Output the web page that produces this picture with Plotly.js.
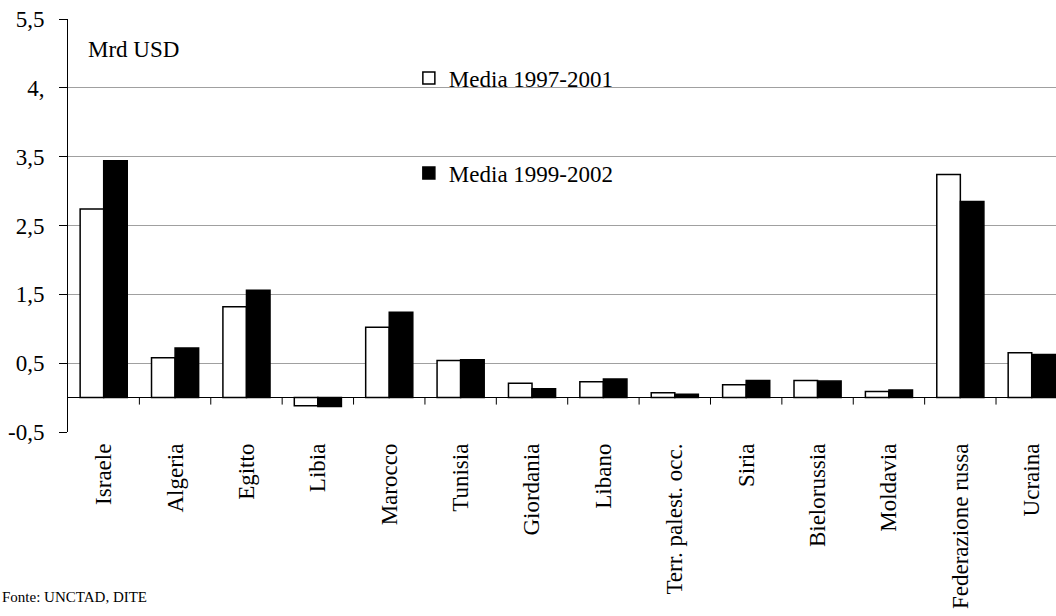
<!DOCTYPE html>
<html>
<head>
<meta charset="utf-8">
<script src="https://cdn.plot.ly/plotly-3.0.1.min.js"></script>
<style>
  html, body { margin: 0; padding: 0; background: #fff; }
  #chart { width: 1056px; height: 616px; }
</style>
</head>
<body>
<div id="chart"></div>
<script>
const categories = ["Israele", "Algeria", "Egitto", "Libia", "Marocco", "Tunisia", "Giordania",
  "Libano", "Terr. palest. occ.", "Siria", "Bielorussia", "Moldavia", "Federazione russa", "Ucraina"];
const media1997_2001 = [2.74, 0.58, 1.32, -0.12, 1.02, 0.54, 0.21, 0.23, 0.07, 0.185, 0.25, 0.09, 3.24, 0.65];
const media1999_2002 = [3.44, 0.72, 1.56, -0.13, 1.24, 0.55, 0.13, 0.27, 0.05, 0.25, 0.24, 0.11, 2.85, 0.625];
const yTickVals = [-0.5, 0.5, 1.5, 2.5, 3.5, 4.5, 5.5];
const yTickText = ["-0,5", "0,5", "1,5", "2,5", "3,5", "4,", "5,5"];
const seriesNames = ["Media 1997-2001", "Media 1999-2002"];
const unitLabel = "Mrd USD";
const sourceLabel = "Fonte: UNCTAD, DITE";

const FONT = "'Liberation Serif', 'Times New Roman', Times, serif";

const traces = [
  {
    type: "bar", x: categories, y: media1997_2001, name: seriesNames[0],
    legendgroup: "a",
    marker: { color: "#ffffff", line: { color: "#000000", width: 1.5 } },
    hoverinfo: "x+y"
  },
  {
    type: "bar", x: categories, y: media1999_2002, name: seriesNames[1],
    legendgroup: "b",
    marker: { color: "#000000", line: { color: "#000000", width: 1.5 } },
    hoverinfo: "x+y"
  }
];

// category boundary tick marks along the zero line
const shapes = [];
for (let i = 0; i < categories.length - 1; i++) {
  shapes.push({
    type: "line", xref: "x", yref: "y", ysizemode: "pixel", yanchor: 0,
    x0: i + 0.5, x1: i + 0.5, y0: 0, y1: -7,
    line: { color: "#000000", width: 1 }
  });
}

const layout = {
  width: 1056, height: 616,
  margin: { l: 68, r: 0, t: 19, b: 184 },
  paper_bgcolor: "#ffffff", plot_bgcolor: "#ffffff",
  font: { family: FONT, size: 23, color: "#000000" },
  barmode: "group", bargap: 0.34, bargroupgap: 0,
  showlegend: true,
  legend: {
    x: 0.345, y: 0.909, xanchor: "left", yanchor: "top",
    traceorder: "grouped", tracegroupgap: 62,
    bgcolor: "rgba(0,0,0,0)", borderwidth: 0,
    font: { family: FONT, size: 23, color: "#000000" }
  },
  xaxis: {
    type: "category", range: [-0.5, 13.34],
    showgrid: false, zeroline: false, showline: false,
    ticks: "", tickangle: -90, ticklabelstandoff: 6,
    tickfont: { family: FONT, size: 23, color: "#000000" },
    fixedrange: true
  },
  yaxis: {
    range: [-0.5, 5.5],
    tickmode: "array", tickvals: yTickVals, ticktext: yTickText,
    showgrid: true, gridcolor: "#a0a0a0", gridwidth: 1,
    zeroline: true, zerolinecolor: "#000000", zerolinewidth: 1,
    showline: true, linecolor: "#000000", linewidth: 1,
    ticks: "outside", ticklen: 8, tickcolor: "#000000", tickwidth: 1,
    ticklabelstandoff: 10,
    tickfont: { family: FONT, size: 23, color: "#000000" },
    fixedrange: true
  },
  shapes: shapes,
  annotations: [
    {
      text: unitLabel, xref: "paper", yref: "paper", x: 0, y: 1,
      xanchor: "left", yanchor: "top", xshift: 18, yshift: -16,
      showarrow: false, font: { family: FONT, size: 23, color: "#000000" }
    },
    {
      text: sourceLabel, xref: "paper", yref: "paper", x: 0, y: 0,
      xanchor: "left", yanchor: "middle", xshift: -68, yshift: -165,
      showarrow: false, font: { family: FONT, size: 15, color: "#000000" }
    }
  ]
};

Plotly.newPlot("chart", traces, layout, { displayModeBar: false, staticPlot: false, responsive: false });
</script>
</body>
</html>
